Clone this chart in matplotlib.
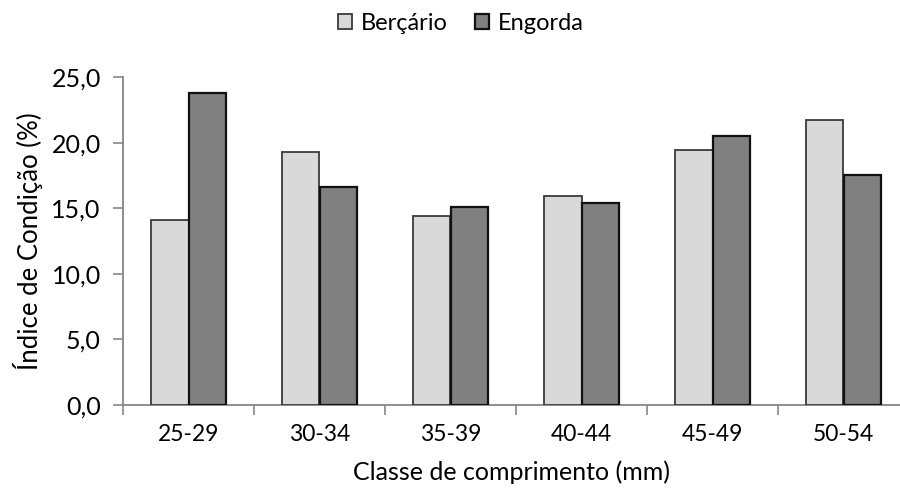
import numpy as np
import matplotlib
matplotlib.use("Agg")
import matplotlib.pyplot as plt
from matplotlib.ticker import FixedLocator, FuncFormatter

plt.rcParams['font.family'] = ['Lato', 'DejaVu Sans']

categories = ["25-29", "30-34", "35-39", "40-44", "45-49", "50-54"]
bercario = [14.1, 19.3, 14.4, 15.9, 19.4, 21.7]
engorda = [23.8, 16.6, 15.1, 15.4, 20.5, 17.5]
series_names = ["Berçário", "Engorda"]

W, H = 900, 491
fig = plt.figure(figsize=(W / 100, H / 100), dpi=100)
# axes box in pixel units: left 123, right 900, bottom 405, top 77
ax = fig.add_axes([123 / W, 1 - 405 / H, (900 - 123) / W, (405 - 77) / H])

x = np.arange(len(categories))
bw = 1 / 3.5  # Excel gap width 150%
ax.bar(x - bw / 2, bercario, width=bw, color="#d9d9d9", edgecolor="#3a3a3a",
       linewidth=1.3, label=series_names[0], zorder=3)
ax.bar(x + bw / 2, engorda, width=bw, color="#808080", edgecolor="#111111",
       linewidth=1.6, label=series_names[1], zorder=3)

ax.set_ylim(0, 25)
ax.set_xlim(-0.5, 5.5 - 9 / 131)

ax.yaxis.set_major_locator(FixedLocator([0, 5, 10, 15, 20, 25]))
ax.yaxis.set_major_formatter(FuncFormatter(lambda v, p: f"{v:.1f}".replace(".", ",")))

ax.set_xticks(x)
ax.set_xticklabels(categories)
ax.xaxis.set_minor_locator(FixedLocator(np.arange(-0.5, 6.0, 1.0)))
ax.tick_params(axis="x", which="major", length=0, pad=14, labelsize=16.5)
ax.tick_params(axis="x", which="minor", length=7, width=1.2, color="#868686", direction="out")
ax.tick_params(axis="y", length=7, width=1.2, color="#868686", direction="out",
               pad=9, labelsize=18)

for s in ["top", "right"]:
    ax.spines[s].set_visible(False)
for s in ["left", "bottom"]:
    ax.spines[s].set_color("#868686")
    ax.spines[s].set_linewidth(1.3)

ax.set_xlabel("Classe de comprimento (mm)", fontsize=18, labelpad=11)
ax.set_ylabel("Índice de Condição (%)", fontsize=18.5, labelpad=6)

fig.legend(loc="center", bbox_to_anchor=(461 / W, 1 - 23 / H), ncol=2, frameon=False,
           fontsize=17, handlelength=0.6, handleheight=0.6, handletextpad=0.38,
           columnspacing=1.14)

fig.savefig("out.png", dpi=100)
